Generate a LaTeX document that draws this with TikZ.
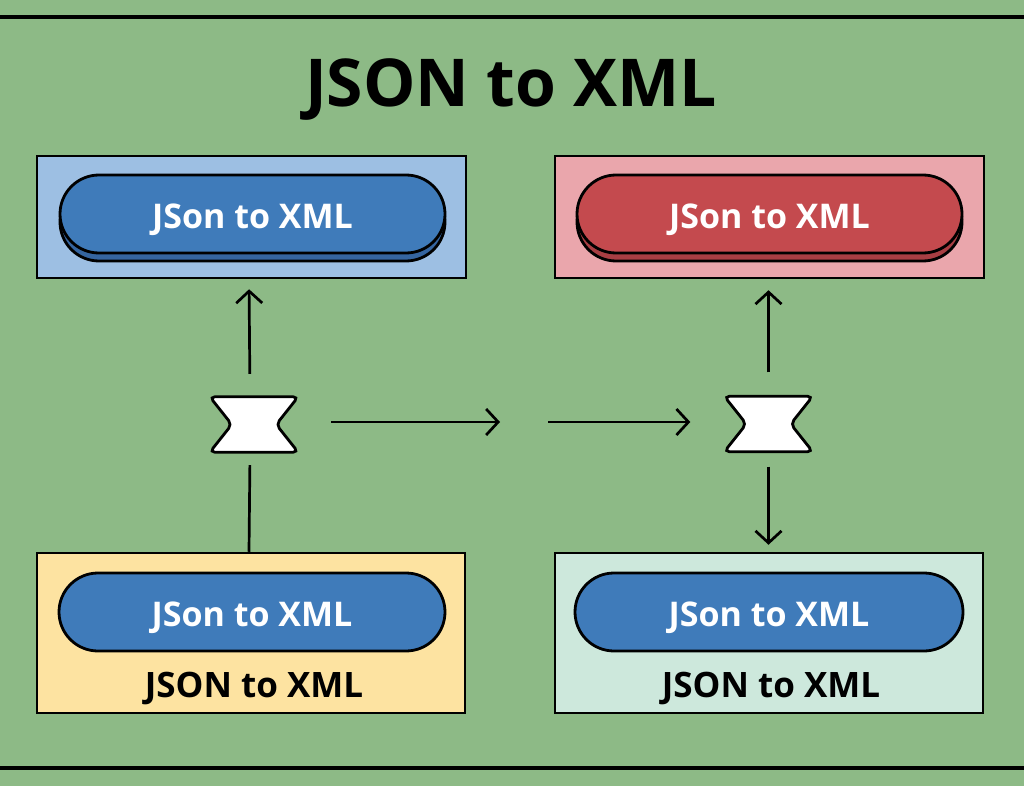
\documentclass[tikz,border=0pt]{standalone}
\usepackage{fontspec}
\setmainfont{Open Sans}
\usetikzlibrary{arrows.meta,shadows,calc}
\definecolor{bggreen}{HTML}{8DBA86}
\definecolor{bluebg}{HTML}{9DBFE3}
\definecolor{pillblue}{HTML}{3F7BBA}
\definecolor{pillbluedark}{HTML}{3565A0}
\definecolor{pinkbg}{HTML}{EAA6AC}
\definecolor{pillred}{HTML}{C44A4E}
\definecolor{pillreddark}{HTML}{A83E43}
\definecolor{yellowbg}{HTML}{FDE3A1}
\definecolor{mintbg}{HTML}{CDE8DC}
\tikzset{
  panel/.style={draw=black, line width=2.5pt, minimum width=429pt, minimum height=122pt, inner sep=0pt},
  pill/.style={draw=black, line width=2.8pt, rounded corners=39pt, minimum width=385pt, minimum height=78pt, inner sep=0pt, text=white, text height=30pt, text depth=0pt, font=\bfseries\fontsize{34}{36}\selectfont},
  pillshadow/.style={drop shadow={shadow xshift=0pt, shadow yshift=-8pt, fill=#1, draw=black, line width=2.8pt, opacity=1}},
  lbl/.style={font=\bfseries\fontsize{35}{38}\selectfont, text=black, inner sep=0pt, text height=25pt, text depth=0pt},
  hgbox/.style={minimum width=88pt, minimum height=55pt, inner sep=0pt},
  hgshape/.style={draw=black, fill=white, line width=2.8pt, rounded corners=5pt},
  conn/.style={line width=2.7pt, draw=black},
  arr/.style={conn, -{Straight Barb[length=12pt, width=26pt, line width=2.7pt]}},
  rule/.style={line width=4pt, draw=black}
}
\begin{document}
\begin{tikzpicture}[x=1pt, y=-1pt]
\useasboundingbox (0,0) rectangle (1024,786);
\fill[bggreen] (0,0) rectangle (1024,786);
\coordinate (ruleTL) at (0,17);
\coordinate (ruleTR) at (1024,17);
\coordinate (ruleBL) at (0,768);
\coordinate (ruleBR) at (1024,768);
\draw[rule] (ruleTL) -- (ruleTR);
\draw[rule] (ruleBL) -- (ruleBR);

\node[font=\bfseries\fontsize{66}{70}\selectfont, inner sep=0pt, text height=47pt, text depth=0pt] (title) at (511,83.5) {JSON to XML};

% panels
\node[panel, fill=bluebg] (tl) at (251.5,217) {};
\node[panel, fill=pinkbg] (tr) at (769.5,217) {};
\node[panel, fill=yellowbg, minimum height=160pt, minimum width=428pt] (bl) at (251,633) {};
\node[panel, fill=mintbg, minimum height=160pt, minimum width=428pt] (br) at (769,633) {};

% pills
\node[pill, fill=pillblue, pillshadow=pillbluedark] (tlp) at (252.5,214) {JSon to XML};
\node[pill, fill=pillred, pillshadow=pillreddark] (trp) at (769.5,214) {JSon to XML};
\node[pill, fill=pillblue, minimum width=386pt, text height=28pt] (blp) at (252,612) {JSon to XML};
\node[pill, fill=pillblue, minimum width=388pt, text height=28pt] (brp) at (769,612) {JSon to XML};

\node[lbl] (bll) at (254,685) {JSON to XML};
\node[lbl] (brl) at (771,685) {JSON to XML};

% hourglasses
\node[hgbox] (hgL) at (254,424.5) {};
\node[hgbox] (hgR) at (768.5,424) {};
\foreach \h in {hgL,hgR}{
  \draw[hgshape] (\h.north west) -- (\h.north east) -- ($(\h.east)+(-22,0)$) -- (\h.south east) -- (\h.south west) -- ($(\h.west)+(22,0)$) -- cycle;
}

% connectors
\coordinate (m1) at (500,422);
\coordinate (m2) at (548,422);
\draw[arr, shorten <=23pt, shorten >=10pt] ($(hgL.north)+(-4,0)$) -- ($(tl.south)+(-2.5,0)$);
\draw[conn, shorten <=13pt] ($(hgL.south)+(-4,0)$) -- ($(bl.north)+(-2,0)$);
\draw[arr, shorten <=33pt] ($(hgL.east)+(0,-2.5)$) -- (m1);
\draw[arr, shorten >=34pt] (m2) -- ($(hgR.west)+(0,-2)$);
\draw[arr, shorten <=24pt, shorten >=11pt] (hgR.north) -- ($(tr.south)+(-1,0)$);
\draw[arr, shorten <=15pt, shorten >=7pt] (hgR.south) -- ($(br.north)+(-0.5,0)$);
\end{tikzpicture}
\end{document}
